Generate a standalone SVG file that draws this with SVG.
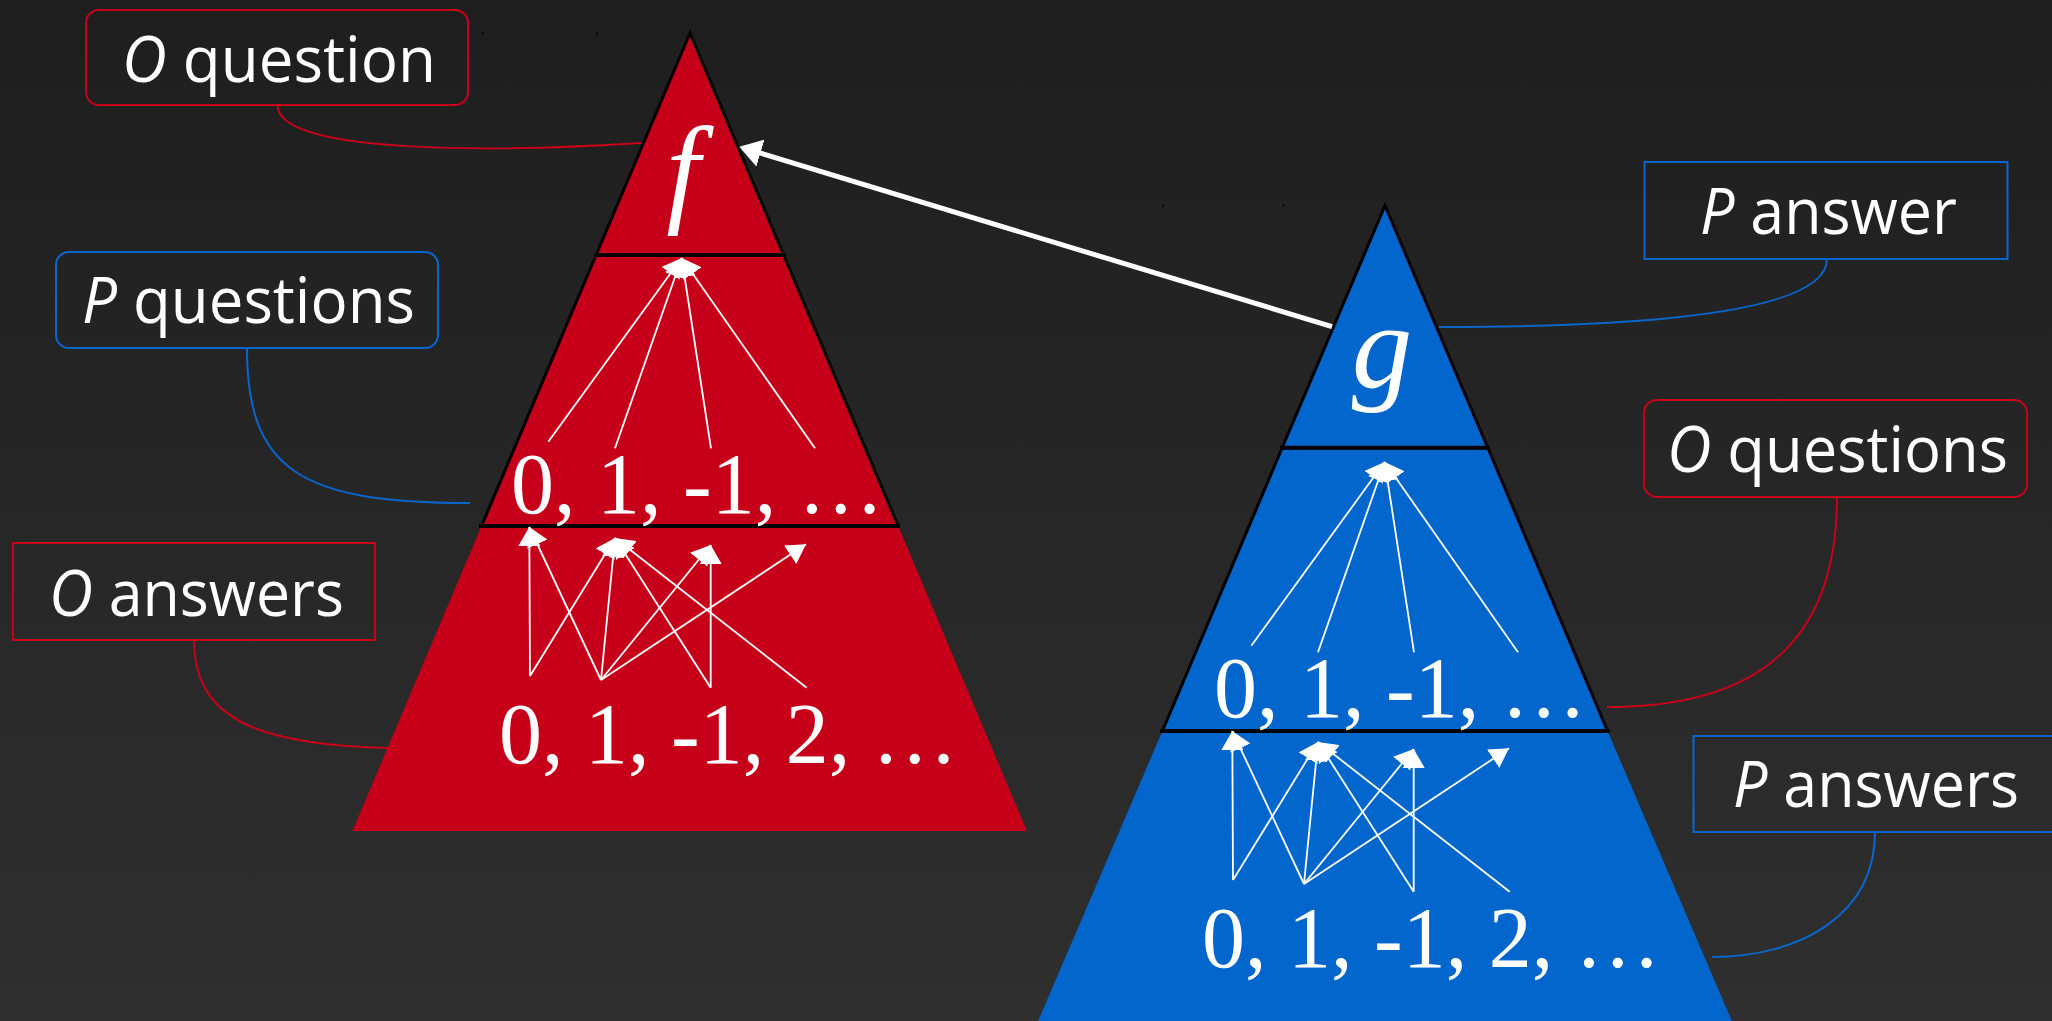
<svg xmlns="http://www.w3.org/2000/svg" width="2052" height="1021" viewBox="0 0 2052 1021">
<defs>
  <linearGradient id="bg" x1="0" y1="0" x2="0" y2="1">
    <stop offset="0" stop-color="#1e1e1e"/>
    <stop offset="1" stop-color="#2f2f2f"/>
  </linearGradient>
  <marker id="ah" viewBox="0 0 19 22" refX="19" refY="11" markerWidth="19" markerHeight="22" markerUnits="userSpaceOnUse" orient="auto">
    <path d="M0,0 L19,11 L0,22 Z" fill="#ffffff"/>
  </marker>
  <marker id="bigah" viewBox="0 0 22 28" refX="18" refY="14" markerWidth="22" markerHeight="28" markerUnits="userSpaceOnUse" orient="auto">
    <path d="M0,0 L22,14 L0,28 Z" fill="#ffffff"/>
  </marker>
</defs>
<style>
  .red { fill: #c70019; }
  .blue { fill: #0366cc; }
  .edge { stroke: #000; stroke-width: 3; stroke-linejoin: miter; }
  .div { stroke: #000; stroke-width: 4; }
  .tick { stroke: #000; stroke-width: 1.2; }
  .sm { stroke: #fff; stroke-width: 1.8; fill: none; marker-end: url(#ah); }
  .num { font-family: "Liberation Serif", "DejaVu Serif", serif; font-size: 86px; fill: #fff; }
  .var { font-family: "Liberation Serif", "DejaVu Serif", serif; font-style: italic; font-size: 121px; fill: #fff; text-anchor: middle; }
  .lbl { font-family: "Open Sans", "Noto Sans", "DejaVu Sans", sans-serif; font-size: 64px; fill: #fff; }
  .it { font-style: italic; }
  .boxr { fill: none; stroke: #c8001a; stroke-width: 2; }
  .boxb { fill: none; stroke: #0a66cc; stroke-width: 2; }
  .lr { fill: none; stroke: #c8001a; stroke-width: 2; }
  .lb { fill: none; stroke: #0a66cc; stroke-width: 2; }
</style>

<rect x="0" y="0" width="2052" height="1021" fill="url(#bg)"/>

<!-- Red triangle f -->
<g id="tri-f">
  <polygon class="red" points="481.5,526 898.2,526 1027,831 352.5,831"/>
  <polygon class="red edge" points="596.1,255 783.7,255 898.2,526 481.5,526"/>
  <polygon class="red edge" points="690,33 783.7,255 596.1,255"/>
  <line class="div" x1="594" y1="255" x2="786" y2="255"/>
  <line class="div" x1="479" y1="526" x2="900" y2="526"/>
  <line class="tick" x1="482.7" y1="32" x2="482.7" y2="35"/>
  <line class="tick" x1="596.7" y1="32" x2="596.7" y2="35"/>
  <text class="var" x="683" y="210">f</text>
  <g id="f-questions">
    <line class="sm" x1="548.3" y1="441.7" x2="681.7" y2="258"/>
    <line class="sm" x1="615" y1="448.3" x2="681.7" y2="258"/>
    <line class="sm" x1="711" y1="448.3" x2="681.7" y2="258"/>
    <line class="sm" x1="815" y1="448.3" x2="681.7" y2="258"/>
    <text class="num" x="511" y="513">0, 1, -1, …</text>
  </g>
  <g id="f-answers">
    <line class="sm" x1="530" y1="676" x2="529.3" y2="527"/>
    <line class="sm" x1="530" y1="676" x2="615" y2="538"/>
    <line class="sm" x1="601" y1="680" x2="529.3" y2="527"/>
    <line class="sm" x1="601" y1="680" x2="615" y2="538"/>
    <line class="sm" x1="601" y1="680" x2="710.7" y2="545"/>
    <line class="sm" x1="601" y1="680" x2="806" y2="544.3"/>
    <line class="sm" x1="710.7" y1="687.7" x2="615" y2="538"/>
    <line class="sm" x1="710.7" y1="687.7" x2="710.7" y2="545"/>
    <line class="sm" x1="806.7" y1="687.7" x2="615" y2="538"/>
    <text class="num" x="499" y="763">0, 1, -1, 2, …</text>
  </g>
</g>

<!-- Blue triangle g -->
<g id="tri-g">
  <polygon class="blue" points="1162.4,731 1607.6,731 1740,1040 1030,1040"/>
  <polygon class="blue edge" points="1282.2,447.7 1487.8,447.7 1607.6,731 1162.4,731"/>
  <polygon class="blue edge" points="1385,205.5 1487.8,447.7 1282.2,447.7"/>
  <line class="div" x1="1280" y1="447.7" x2="1490" y2="447.7"/>
  <line class="div" x1="1160" y1="731" x2="1610" y2="731"/>
  <line class="tick" x1="1163" y1="204" x2="1163" y2="207"/>
  <line class="tick" x1="1283.5" y1="204" x2="1283.5" y2="207"/>
  <text class="var" x="1382" y="387">g</text>
  <g id="g-questions" transform="translate(703,204)">
    <line class="sm" x1="548.3" y1="441.7" x2="681.7" y2="258"/>
    <line class="sm" x1="615" y1="448.3" x2="681.7" y2="258"/>
    <line class="sm" x1="711" y1="448.3" x2="681.7" y2="258"/>
    <line class="sm" x1="815" y1="448.3" x2="681.7" y2="258"/>
    <text class="num" x="511" y="513">0, 1, -1, …</text>
  </g>
  <g id="g-answers" transform="translate(703,204)">
    <line class="sm" x1="530" y1="676" x2="529.3" y2="527"/>
    <line class="sm" x1="530" y1="676" x2="615" y2="538"/>
    <line class="sm" x1="601" y1="680" x2="529.3" y2="527"/>
    <line class="sm" x1="601" y1="680" x2="615" y2="538"/>
    <line class="sm" x1="601" y1="680" x2="710.7" y2="545"/>
    <line class="sm" x1="601" y1="680" x2="806" y2="544.3"/>
    <line class="sm" x1="710.7" y1="687.7" x2="615" y2="538"/>
    <line class="sm" x1="710.7" y1="687.7" x2="710.7" y2="545"/>
    <line class="sm" x1="806.7" y1="687.7" x2="615" y2="538"/>
    <text class="num" x="499" y="763">0, 1, -1, 2, …</text>
  </g>
</g>

<!-- Labels -->
<g id="lbl-o-question">
  <rect class="boxr" x="86" y="10" width="382" height="95" rx="13"/>
  <text class="lbl" x="122" y="81.7" textLength="314" lengthAdjust="spacingAndGlyphs"><tspan class="it">O</tspan> question</text>
</g>
<g id="lbl-p-questions">
  <rect class="boxb" x="56" y="252" width="382" height="96" rx="13"/>
  <text class="lbl" x="82" y="322.7" textLength="333" lengthAdjust="spacingAndGlyphs"><tspan class="it">P</tspan> questions</text>
</g>
<g id="lbl-o-answers">
  <rect class="boxr" x="13" y="543" width="362" height="97"/>
  <text class="lbl" x="49" y="616" textLength="295" lengthAdjust="spacingAndGlyphs"><tspan class="it">O</tspan> answers</text>
</g>
<g id="lbl-p-answer">
  <rect class="boxb" x="1644.5" y="162" width="363" height="97"/>
  <text class="lbl" x="1700" y="234.3" textLength="257" lengthAdjust="spacingAndGlyphs"><tspan class="it">P</tspan> answer</text>
</g>
<g id="lbl-o-questions">
  <rect class="boxr" x="1644" y="400" width="383" height="97" rx="13"/>
  <text class="lbl" x="1667" y="471.7" textLength="341" lengthAdjust="spacingAndGlyphs"><tspan class="it">O</tspan> questions</text>
</g>
<g id="lbl-p-answers">
  <rect class="boxb" x="1693.5" y="736" width="380" height="96"/>
  <text class="lbl" x="1733" y="806.7" textLength="286" lengthAdjust="spacingAndGlyphs"><tspan class="it">P</tspan> answers</text>
</g>

<!-- Connectors -->
<g id="connectors">
  <path class="lr" d="M277.5,105 C277.5,155 500,152 641,143"/>
  <path class="lb" d="M247,348 C247,470 300,503 470,503"/>
  <path class="lr" d="M194,640 C194,715 250,745 388,748"/>
  <path class="lb" d="M1827,259 C1827,300 1720,327 1439,327"/>
  <path class="lr" d="M1837,497 C1837,640 1760,707 1607,707"/>
  <path class="lb" d="M1875,832 C1875,915 1800,957 1712,957"/>
  <line x1="1332" y1="326.7" x2="743.2" y2="147.9" stroke="#ffffff" stroke-width="5" marker-end="url(#bigah)"/>
</g>
</svg>
